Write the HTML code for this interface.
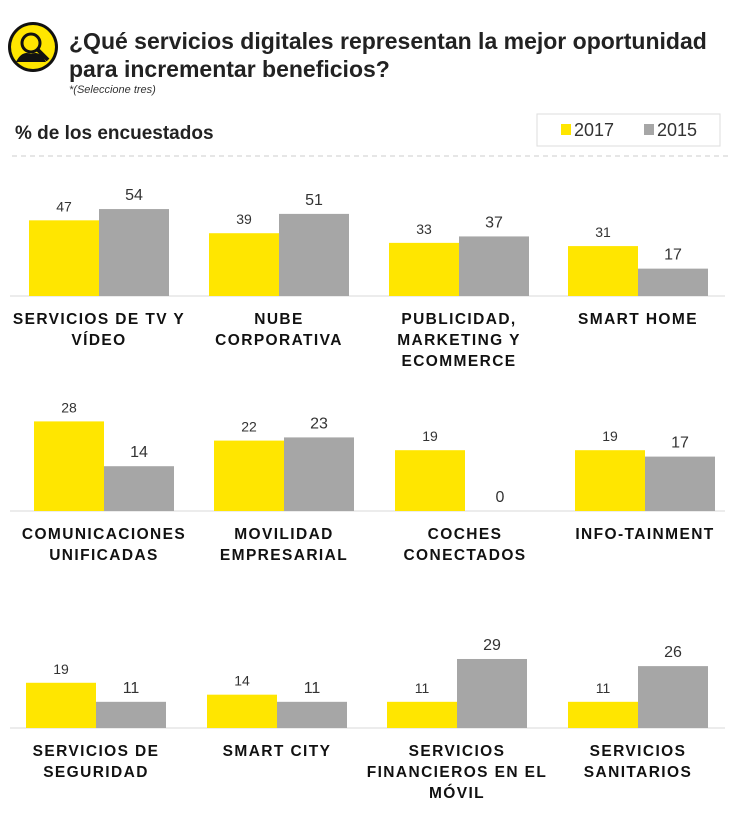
<!DOCTYPE html>
<html><head><meta charset="utf-8">
<style>
body{margin:0;background:#fff;width:737px;height:808px;overflow:hidden;font-family:"Liberation Sans",sans-serif}
</style></head>
<body>
<svg width="737" height="808" id="svg">
<g>
<circle cx="33" cy="47" r="25" fill="#111"/>
<circle cx="33" cy="47" r="22" fill="#ffe600"/>
<circle cx="31" cy="43" r="9" fill="none" stroke="#111" stroke-width="3"/>
<path d="M16 62 Q22 50 31 54 Q40 50 46 62 Z" fill="#111"/>
<line x1="38" y1="50" x2="48" y2="60" stroke="#111" stroke-width="4"/>
</g>
<text x="69" y="49" font-size="23" font-weight="bold" fill="#222">¿Qué servicios digitales representan la mejor oportunidad</text>
<text x="69" y="77" font-size="23" font-weight="bold" fill="#222">para incrementar beneficios?</text>
<text x="69" y="93" font-size="11" font-style="italic" fill="#333">*(Seleccione tres)</text>
<text x="15" y="139" font-size="19" font-weight="bold" fill="#222">% de los encuestados</text>
<g>
<rect x="537" y="114" width="183" height="32" fill="#fff" stroke="#ddd"/>
<rect x="561" y="124" width="10" height="11" fill="#ffe600"/>
<text x="574" y="136" font-size="18" fill="#333">2017</text>
<rect x="644" y="124" width="10" height="11" fill="#a6a6a6"/>
<text x="657" y="136" font-size="18" fill="#333">2015</text>
</g>
<line x1="12" y1="156" x2="730" y2="156" stroke="#ccc" stroke-dasharray="5,4"/>
</svg>
<script>
const categories=[["SERVICIOS DE TV Y","VÍDEO"],["NUBE","CORPORATIVA"],["PUBLICIDAD,","MARKETING Y","ECOMMERCE"],["SMART HOME"],
["COMUNICACIONES","UNIFICADAS"],["MOVILIDAD","EMPRESARIAL"],["COCHES","CONECTADOS"],["INFO-TAINMENT"],
["SERVICIOS DE","SEGURIDAD"],["SMART CITY"],["SERVICIOS","FINANCIEROS EN EL","MÓVIL"],["SERVICIOS","SANITARIOS"]];
const values2017=[47,39,33,31,28,22,19,19,19,14,11,11];
const values2015=[54,51,37,17,14,23,0,17,11,11,29,26];
const svg=document.getElementById('svg');
const NS='http://www.w3.org/2000/svg';
const rows=[{base:296,scale:1.61,xs:[29,209,389,568]},{base:511,scale:3.2,xs:[34,214,395,575]},{base:728,scale:2.38,xs:[26,207,387,568]}];
const bw=70;
function mk(t,a){const e=document.createElementNS(NS,t);for(const k in a)e.setAttribute(k,a[k]);svg.appendChild(e);return e;}
function yv(r,v){return r.base-v*r.scale;}
rows.forEach((r,ri)=>{
 const ln=mk('line',{x1:10,x2:725,y1:r.base,y2:r.base,stroke:'#d9d9d9'});
 
 
 r.xs.forEach((x0,gi)=>{
  const i=ri*4+gi;
  const v1=values2017[i],v2=values2015[i];
  const b1=mk('rect',{x:x0,y:yv(r,v1),width:bw,height:r.base-yv(r,v1),fill:'#ffe600'});
  
  
  const b2=mk('rect',{x:x0+bw,y:yv(r,v2),width:bw,height:r.base-yv(r,v2),fill:'#a6a6a6'});
  
  
  const t1=mk('text',{x:x0+bw/2,y:yv(r,v1)-9,'text-anchor':'middle','font-size':14,fill:'#333'});
  t1.textContent=v1;
  
  
  const t2=mk('text',{x:x0+bw*1.5,y:yv(r,v2)-9,'text-anchor':'middle','font-size':16,fill:'#333'});
  t2.textContent=v2;
  
  
  categories[i].forEach((s,li)=>{
   const c=mk('text',{x:x0+bw,y:r.base+28+li*21,'text-anchor':'middle','font-size':15.5,'font-weight':'bold','letter-spacing':'1.4',fill:'#111'});
   c.textContent=s;
   
   
  });
 });
});
</script>
</body></html>
